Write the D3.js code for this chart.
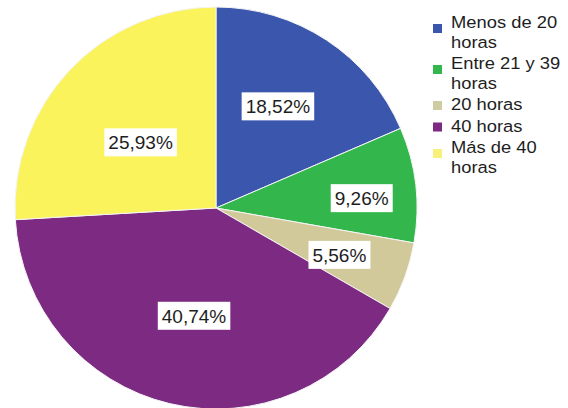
<!DOCTYPE html>
<html>
<head>
<meta charset="utf-8">
<script src="https://cdn.jsdelivr.net/npm/d3@7"></script>
<style>
  html, body { margin: 0; padding: 0; background: #fff; }
  svg { display: block; }
</style>
</head>
<body>
<svg id="chart" width="568" height="408"></svg>
<script>
// ---- data ----
const categories = ["Menos de 20 horas", "Entre 21 y 39 horas", "20 horas", "40 horas", "Más de 40 horas"];
const legendLines = [["Menos de 20", "horas"], ["Entre 21 y 39", "horas"], ["20 horas"], ["40 horas"], ["Más de 40", "horas"]];
const counts = [10, 5, 3, 22, 14];
const percentLabels = ["18,52%", "9,26%", "5,56%", "40,74%", "25,93%"];

// ---- styles / layout ----
const sliceColors = ["#3b57ad", "#33b64b", "#d2c99b", "#7c2a82", "#fbf35c"];
const legendColors = ["#3b57ad", "#33b64b", "#d0cca2", "#7c2a82", "#f7f07a"];
const labelRadius = [119, 146, 132, 110, 100];
const labelAngleShift = [-2, 2.8, 0.8, -1.8, -2.3]; // degrees
const fontFamily = "'Liberation Sans', Arial, sans-serif";

const svg = d3.select("#chart");
const cx = 216, cy = 208, R = 201;

const pie = d3.pie().sort(null).value(d => d.value);
const rows = categories.map((c, i) => ({ name: c, value: counts[i], i }));
const arcs = pie(rows);
const arc = d3.arc().innerRadius(0).outerRadius(R);

const g = svg.append("g").attr("transform", `translate(${cx},${cy})`);

g.selectAll("path.slice")
  .data(arcs)
  .join("path")
  .attr("class", "slice")
  .attr("d", arc)
  .attr("fill", d => sliceColors[d.data.i])
  .attr("stroke", "#f4f4f4")
  .attr("stroke-width", 1);

// labels with white boxes
const lab = g.selectAll("g.lab")
  .data(arcs)
  .join("g")
  .attr("class", "lab")
  .attr("transform", d => {
    const r = labelRadius[d.data.i];
    const a = (d.startAngle + d.endAngle) / 2 + labelAngleShift[d.data.i] * Math.PI / 180;
    return `translate(${r * Math.sin(a)},${-r * Math.cos(a)})`;
  });

lab.append("rect").attr("fill", "#ffffff");
lab.append("text")
  .attr("text-anchor", "middle")
  .attr("dy", "0.36em")
  .attr("font-family", fontFamily)
  .attr("font-size", 19)
  .attr("fill", "#1e1e1e")
  .text(d => percentLabels[d.data.i]);

lab.each(function() {
  const t = d3.select(this).select("text").node().getBBox();
  d3.select(this).select("rect")
    .attr("x", t.x - 4)
    .attr("y", -14)
    .attr("width", t.width + 8)
    .attr("height", 28);
});

// legend
const innerPitch = 19.5, itemGap = 21.5;
const legend = svg.append("g").attr("transform", "translate(433,28)");
let y = 0;
legendLines.forEach((lines, i) => {
  const item = legend.append("g");
  const firstCenter = y - 6;
  const sqCenter = lines.length > 1 ? firstCenter + 6.5 : firstCenter + 1.5;
  item.append("rect")
    .attr("x", 0)
    .attr("y", sqCenter - 4.5)
    .attr("width", 9)
    .attr("height", 9)
    .attr("fill", legendColors[i]);
  lines.forEach((t, k) => {
    item.append("text")
      .attr("transform", `translate(18,${y + k * innerPitch}) scale(1.08,1)`)
      .attr("font-family", fontFamily)
      .attr("font-size", 17)
      .attr("fill", "#1e1e1e")
      .text(t);
  });
  y += (lines.length - 1) * innerPitch + itemGap;
});
</script>
</body>
</html>
